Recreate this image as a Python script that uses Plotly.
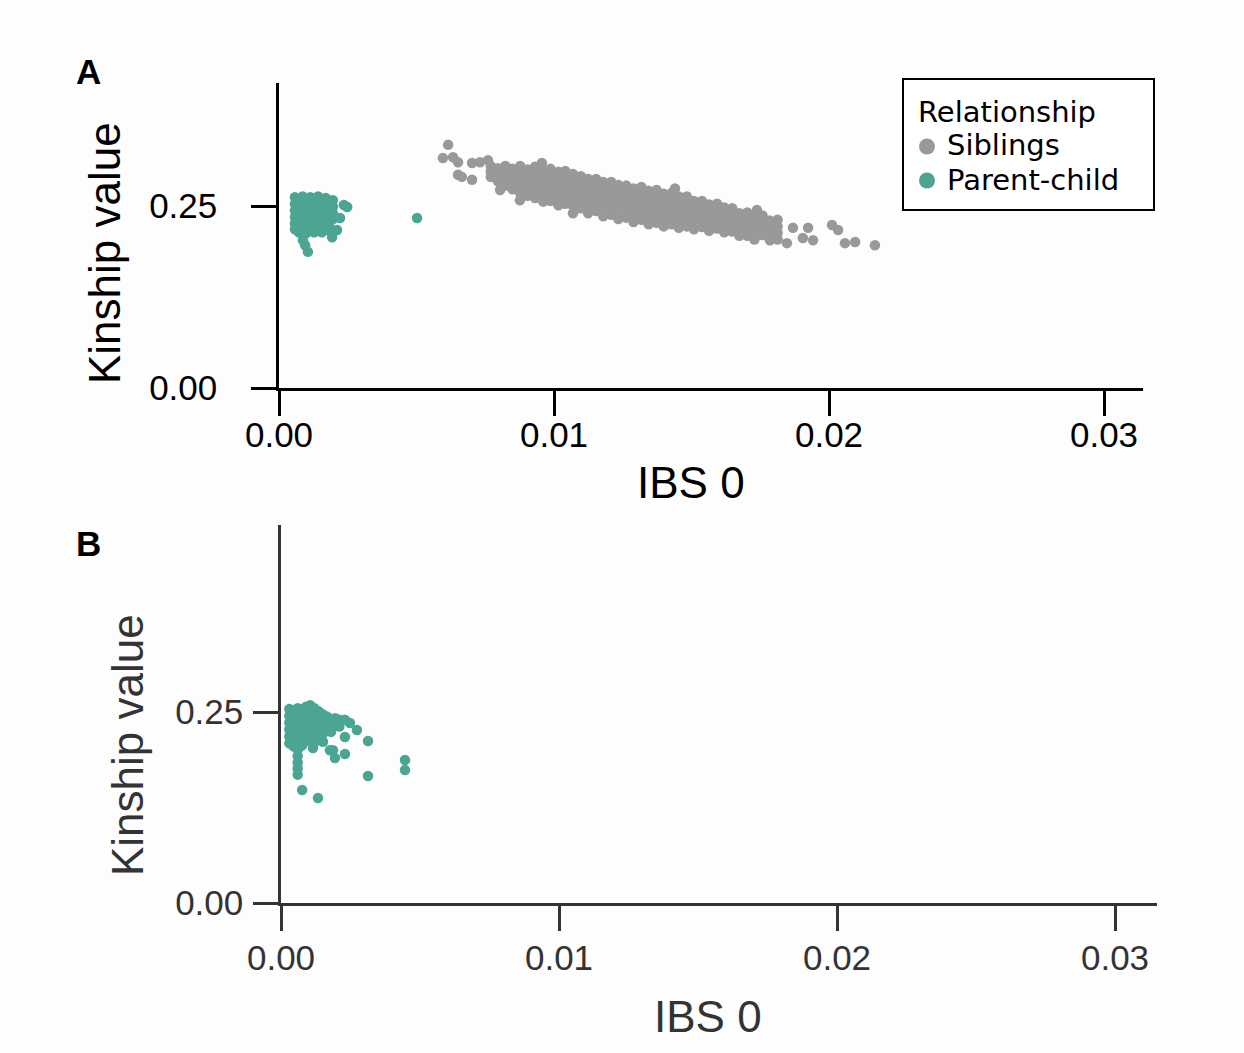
import plotly.graph_objects as go

# ---------------- data ----------------
x_ticks = [0.0, 0.01, 0.02, 0.03]
x_ticklabels = ["0.00", "0.01", "0.02", "0.03"]
y_ticks = [0.0, 0.25]
y_ticklabels = ["0.00", "0.25"]
legend_title = "Relationship"
legend_names = ["Siblings", "Parent-child"]

# Panel A - Siblings (IBS0, kinship)
siblings_A = [
    (0.00615, 0.334), (0.00596, 0.316), (0.00633, 0.317), (0.00651, 0.310), (0.00651, 0.293),
    (0.00665, 0.290), (0.00702, 0.286), (0.00702, 0.309), (0.00731, 0.310), (0.00760, 0.313),
    (0.00770, 0.305), (0.00770, 0.297), (0.00770, 0.290),
    (0.00796, 0.302), (0.00796, 0.293), (0.00796, 0.284), (0.00804, 0.272),
    (0.00823, 0.305), (0.00823, 0.296), (0.00823, 0.287), (0.00823, 0.278),
    (0.00849, 0.301), (0.00849, 0.292), (0.00849, 0.283), (0.00849, 0.273),
    (0.00877, 0.305), (0.00877, 0.296), (0.00877, 0.287), (0.00877, 0.278), (0.00877, 0.268), (0.00876, 0.258),
    (0.00904, 0.300), (0.00904, 0.291), (0.00904, 0.282), (0.00904, 0.273), (0.00904, 0.264),
    (0.00931, 0.304), (0.00931, 0.295), (0.00931, 0.286), (0.00931, 0.277), (0.00931, 0.268), (0.00931, 0.261),
    (0.00956, 0.309),
    (0.00961, 0.299), (0.00961, 0.290), (0.00961, 0.281), (0.00961, 0.272), (0.00961, 0.263), (0.00961, 0.256),
    (0.00987, 0.301), (0.00987, 0.292), (0.00987, 0.283), (0.00987, 0.274), (0.00987, 0.265), (0.00987, 0.257),
    (0.01016, 0.297), (0.01016, 0.288), (0.01016, 0.279), (0.01016, 0.270), (0.01016, 0.261), (0.01016, 0.251),
    (0.01041, 0.298), (0.01041, 0.289), (0.01041, 0.280), (0.01041, 0.271), (0.01041, 0.262), (0.01041, 0.253),
    (0.01069, 0.294), (0.01069, 0.285), (0.01069, 0.276), (0.01069, 0.267), (0.01069, 0.258), (0.01069, 0.250),
    (0.01069, 0.240),
    (0.01098, 0.291), (0.01098, 0.282), (0.01098, 0.273), (0.01098, 0.264), (0.01098, 0.255), (0.01098, 0.247),
    (0.01124, 0.287), (0.01124, 0.278), (0.01124, 0.269), (0.01124, 0.260), (0.01124, 0.251), (0.01124, 0.240),
    (0.01153, 0.287), (0.01153, 0.278), (0.01153, 0.269), (0.01153, 0.260), (0.01153, 0.251), (0.01153, 0.243),
    (0.01179, 0.283), (0.01179, 0.274), (0.01179, 0.265), (0.01179, 0.256), (0.01179, 0.247), (0.01179, 0.236),
    (0.01208, 0.283), (0.01208, 0.274), (0.01208, 0.265), (0.01208, 0.256), (0.01208, 0.247), (0.01208, 0.238),
    (0.01234, 0.279), (0.01234, 0.270), (0.01234, 0.261), (0.01234, 0.252), (0.01234, 0.243), (0.01234, 0.232),
    (0.01263, 0.278), (0.01263, 0.269), (0.01263, 0.260), (0.01263, 0.251), (0.01263, 0.242), (0.01263, 0.234),
    (0.01289, 0.274), (0.01289, 0.265), (0.01289, 0.256), (0.01289, 0.247), (0.01289, 0.238), (0.01289, 0.228),
    (0.01318, 0.276), (0.01318, 0.267), (0.01318, 0.258), (0.01318, 0.249), (0.01318, 0.240), (0.01318, 0.231),
    (0.01344, 0.271), (0.01344, 0.262), (0.01344, 0.253), (0.01344, 0.244), (0.01344, 0.235), (0.01344, 0.225),
    (0.01373, 0.272), (0.01373, 0.263), (0.01373, 0.254), (0.01373, 0.245), (0.01373, 0.236), (0.01373, 0.227),
    (0.01399, 0.267), (0.01399, 0.258), (0.01399, 0.249), (0.01399, 0.240), (0.01399, 0.231), (0.01399, 0.222),
    (0.01440, 0.274),
    (0.01428, 0.268), (0.01428, 0.259), (0.01428, 0.250), (0.01428, 0.241), (0.01428, 0.232), (0.01428, 0.225),
    (0.01454, 0.263), (0.01454, 0.254), (0.01454, 0.245), (0.01454, 0.236), (0.01454, 0.227), (0.01454, 0.220),
    (0.01483, 0.263), (0.01483, 0.254), (0.01483, 0.245), (0.01483, 0.236), (0.01483, 0.227), (0.01483, 0.222),
    (0.01509, 0.257), (0.01509, 0.248), (0.01509, 0.239), (0.01509, 0.230), (0.01509, 0.218),
    (0.01538, 0.257), (0.01538, 0.248), (0.01538, 0.239), (0.01538, 0.230), (0.01538, 0.221),
    (0.01564, 0.252), (0.01564, 0.243), (0.01564, 0.234), (0.01564, 0.225), (0.01564, 0.216),
    (0.01593, 0.253), (0.01593, 0.244), (0.01593, 0.235), (0.01593, 0.226), (0.01593, 0.219),
    (0.01619, 0.248), (0.01619, 0.239), (0.01619, 0.230), (0.01619, 0.221), (0.01619, 0.214),
    (0.01648, 0.247), (0.01648, 0.238), (0.01648, 0.229), (0.01648, 0.220), (0.01648, 0.215),
    (0.01674, 0.240), (0.01674, 0.231), (0.01674, 0.222), (0.01674, 0.213), (0.01674, 0.209),
    (0.01703, 0.241), (0.01703, 0.232), (0.01703, 0.223), (0.01703, 0.214), (0.01703, 0.209),
    (0.01729, 0.235), (0.01729, 0.226), (0.01729, 0.217), (0.01729, 0.208), (0.01738, 0.2445), (0.01729, 0.204),
    (0.01758, 0.237), (0.01758, 0.228), (0.01758, 0.219), (0.01758, 0.210),
    (0.01784, 0.230), (0.01784, 0.221), (0.01784, 0.212), (0.01785, 0.203),
    (0.01813, 0.231), (0.01813, 0.222), (0.01813, 0.213), (0.01813, 0.204),
    (0.01847, 0.199), (0.01869, 0.220), (0.01924, 0.220), (0.01905, 0.206), (0.01942, 0.203),
    (0.02011, 0.224), (0.02033, 0.217), (0.02058, 0.199), (0.02095, 0.2005), (0.02167, 0.196),
]

# Panel A - Parent-child
parent_child_A = [
    (0.00058, 0.262), (0.00058, 0.253), (0.00058, 0.244), (0.00058, 0.235), (0.00058, 0.226), (0.00058, 0.218),
    (0.00072, 0.258), (0.00072, 0.249), (0.00072, 0.240), (0.00072, 0.231), (0.00072, 0.222), (0.00072, 0.214),
    (0.00086, 0.263), (0.00086, 0.254), (0.00086, 0.245), (0.00086, 0.236), (0.00086, 0.227), (0.00086, 0.218),
    (0.00086, 0.210),
    (0.00100, 0.258), (0.00100, 0.249), (0.00100, 0.240), (0.00100, 0.231), (0.00100, 0.222), (0.00100, 0.213),
    (0.00114, 0.262), (0.00114, 0.253), (0.00114, 0.244), (0.00114, 0.235), (0.00114, 0.226), (0.00114, 0.217),
    (0.00128, 0.259), (0.00128, 0.250), (0.00128, 0.241), (0.00128, 0.232), (0.00128, 0.223), (0.00128, 0.214),
    (0.00142, 0.263), (0.00142, 0.254), (0.00142, 0.245), (0.00142, 0.236), (0.00142, 0.227), (0.00142, 0.218),
    (0.00156, 0.258), (0.00156, 0.249), (0.00156, 0.240), (0.00156, 0.231), (0.00156, 0.222), (0.00156, 0.214),
    (0.00170, 0.261), (0.00170, 0.252), (0.00170, 0.243), (0.00170, 0.234), (0.00170, 0.225), (0.00170, 0.217),
    (0.00184, 0.256), (0.00184, 0.247), (0.00184, 0.238), (0.00184, 0.229), (0.00184, 0.220),
    (0.00196, 0.258), (0.00196, 0.249), (0.00196, 0.240), (0.00196, 0.232),
    (0.00087, 0.203), (0.00095, 0.196), (0.00105, 0.187),
    (0.00248, 0.2486), (0.00236, 0.2514), (0.00222, 0.2335), (0.00211, 0.217), (0.00193, 0.207),
    (0.00502, 0.2336),
]

# Panel B - Parent-child
parent_child_B = [
    (0.00030, 0.254), (0.00030, 0.245), (0.00030, 0.236), (0.00030, 0.227), (0.00030, 0.218), (0.00030, 0.209),
    (0.00045, 0.250), (0.00045, 0.241), (0.00045, 0.232), (0.00045, 0.223), (0.00045, 0.214), (0.00045, 0.205),
    (0.00060, 0.255), (0.00060, 0.246), (0.00060, 0.237), (0.00060, 0.228), (0.00060, 0.219), (0.00060, 0.210),
    (0.00060, 0.201), (0.00060, 0.192), (0.00060, 0.184), (0.00060, 0.176), (0.00060, 0.168),
    (0.00075, 0.251), (0.00075, 0.242), (0.00075, 0.233), (0.00075, 0.224), (0.00075, 0.215), (0.00075, 0.206),
    (0.00090, 0.257), (0.00090, 0.248), (0.00090, 0.239), (0.00090, 0.230), (0.00090, 0.221), (0.00090, 0.212),
    (0.00105, 0.259), (0.00105, 0.250), (0.00105, 0.241), (0.00105, 0.232), (0.00105, 0.223), (0.00105, 0.214),
    (0.00120, 0.255), (0.00120, 0.246), (0.00120, 0.237), (0.00120, 0.228), (0.00120, 0.219), (0.00120, 0.210),
    (0.00135, 0.251), (0.00135, 0.242), (0.00135, 0.233), (0.00135, 0.224), (0.00135, 0.216),
    (0.00150, 0.247), (0.00150, 0.238), (0.00150, 0.229), (0.00150, 0.221),
    (0.00165, 0.244), (0.00165, 0.235), (0.00165, 0.226),
    (0.00180, 0.241), (0.00180, 0.232), (0.00180, 0.224),
    (0.00195, 0.242), (0.00195, 0.233),
    (0.00210, 0.240), (0.00210, 0.231),
    (0.00230, 0.240), (0.00248, 0.2356), (0.00273, 0.2264), (0.00230, 0.2173), (0.00313, 0.212),
    (0.00115, 0.203), (0.00176, 0.200), (0.00151, 0.211),
    (0.00187, 0.200), (0.00194, 0.1898), (0.00230, 0.195),
    (0.00313, 0.1662), (0.00446, 0.1872), (0.00446, 0.1741),
    (0.00076, 0.1479), (0.00133, 0.1374),
]

sib_A_ibs0 = [p[0] for p in siblings_A]
sib_A_kin = [p[1] for p in siblings_A]
pc_A_ibs0 = [p[0] for p in parent_child_A]
pc_A_kin = [p[1] for p in parent_child_A]
pc_B_ibs0 = [p[0] for p in parent_child_B]
pc_B_kin = [p[1] for p in parent_child_B]

# ---------------- styling ----------------
W, H = 1244, 1053
GRAY = "#999999"
TEAL = "#4ca592"
BG = "#fdfdfd"
FONT = "Liberation Sans, Arial, sans-serif"
LFONT = "DejaVu Sans, sans-serif"
MS = 10.5

fig = go.Figure()
fig.add_trace(go.Scatter(x=sib_A_ibs0, y=sib_A_kin, mode="markers", name=legend_names[0],
                         marker=dict(color=GRAY, size=MS, line=dict(width=0)),
                         xaxis="x", yaxis="y", cliponaxis=False))
fig.add_trace(go.Scatter(x=pc_A_ibs0, y=pc_A_kin, mode="markers", name=legend_names[1],
                         marker=dict(color=TEAL, size=MS, line=dict(width=0)),
                         xaxis="x", yaxis="y", cliponaxis=False))
fig.add_trace(go.Scatter(x=pc_B_ibs0, y=pc_B_kin, mode="markers", name=legend_names[1],
                         marker=dict(color=TEAL, size=MS, line=dict(width=0)),
                         xaxis="x2", yaxis="y2", cliponaxis=False))


def axis_common(color):
    return dict(showline=True, linecolor=color, linewidth=2.5, ticks="outside",
                ticklen=25, tickwidth=2.5, tickcolor=color, showgrid=False,
                zeroline=False, automargin=False,
                tickfont=dict(family=FONT, size=35, color=color))

xa = axis_common("black")
xa.update(domain=[279 / W, 1143 / W], range=[0, 0.031418], anchor="y",
          tickvals=x_ticks, ticktext=x_ticklabels, ticklabelstandoff=-11)
ya = axis_common("black")
ya.update(domain=[(H - 388) / H, (H - 83) / H], range=[0, 0.41896], anchor="x",
          tickvals=y_ticks, ticktext=y_ticklabels, ticklabelstandoff=27)
xb = axis_common("#333333")
xb.update(domain=[281 / W, 1157 / W], range=[0, 0.03151], anchor="y2",
          tickvals=x_ticks, ticktext=x_ticklabels, ticklabelstandoff=-3)
yb = axis_common("#333333")
yb.update(domain=[(H - 903) / H, (H - 525) / H], range=[0, 0.4948], anchor="x2",
          tickvals=y_ticks, ticktext=y_ticklabels, ticklabelstandoff=3)

fig.update_layout(
    width=W, height=H, autosize=False, margin=dict(l=0, r=0, t=0, b=0, pad=0),
    paper_bgcolor=BG, plot_bgcolor=BG,
    xaxis=xa, yaxis=ya, xaxis2=xb, yaxis2=yb,
    showlegend=False,
)


def px_x(v):
    return v / W


def px_y(v):
    return (H - v) / H


# legend box (drawn as shapes + text, positioned like the reference)
shapes = [
    dict(type="rect", xref="paper", yref="paper", x0=px_x(903), x1=px_x(1154),
         y0=px_y(210), y1=px_y(79), line=dict(color="black", width=2), fillcolor="white", layer="above"),
    dict(type="circle", xref="paper", yref="paper", x0=px_x(919), x1=px_x(935),
         y0=px_y(154.5), y1=px_y(138.5), line=dict(width=0), fillcolor=GRAY, layer="above"),
    dict(type="circle", xref="paper", yref="paper", x0=px_x(919), x1=px_x(935),
         y0=px_y(188.5), y1=px_y(172.5), line=dict(width=0), fillcolor=TEAL, layer="above"),
]
fig.update_layout(shapes=shapes)

ann = [
    dict(text="<b>A</b>", x=88, y=72, size=35, color="black", angle=0, anchor="center", family=FONT),
    dict(text="<b>B</b>", x=88, y=543, size=35, color="black", angle=0, anchor="center", family=FONT),
    dict(text="IBS 0", x=691, y=482, size=44, color="black", angle=0, anchor="center", family=FONT),
    dict(text="IBS 0", x=708, y=1016, size=44, color="#333333", angle=0, anchor="center", family=FONT),
    dict(text="Kinship value", x=105, y=253, size=44, color="black", angle=-90, anchor="center", family=FONT),
    dict(text="Kinship value", x=127, y=745, size=44, color="#333333", angle=-90, anchor="center", family=FONT),
    dict(text=legend_title, x=916, y=112, size=29, color="black", angle=0, anchor="left", family=LFONT),
    dict(text=legend_names[0], x=945, y=145, size=29, color="black", angle=0, anchor="left", family=LFONT),
    dict(text=legend_names[1], x=945, y=179.5, size=29, color="black", angle=0, anchor="left", family=LFONT),
]
for a in ann:
    fig.add_annotation(text=a["text"], x=px_x(a["x"]), y=px_y(a["y"]), xref="paper", yref="paper",
                       xanchor=a["anchor"], yanchor="middle", showarrow=False,
                       font=dict(family=a["family"], size=a["size"], color=a["color"]),
                       textangle=a["angle"])

fig.write_html("out.html", config={"responsive": False, "displayModeBar": False},
               post_script="document.body.style.margin='0px';document.body.style.overflow='hidden';")
